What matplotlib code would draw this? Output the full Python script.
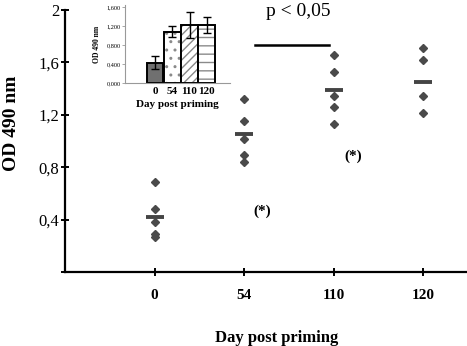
import matplotlib
matplotlib.use("Agg")
import matplotlib.pyplot as plt
import numpy as np

# ---- data ----
days = ["0", "54", "110", "120"]
od_day0 = [0.69, 0.48, 0.38, 0.29, 0.27]
od_day54 = [1.32, 1.15, 1.015, 0.89, 0.84]
od_day110 = [1.66, 1.53, 1.34, 1.26, 1.13]
od_day120 = [1.71, 1.62, 1.34, 1.21]
group_means = [0.42, 1.05, 1.39, 1.45]

inset_means = [0.43, 1.08, 1.22, 1.22]
inset_err = [0.14, 0.12, 0.27, 0.16]

yticks = [0.0, 0.4, 0.8, 1.2, 1.6, 2.0]
ytick_labels = ["", "0,4", "0,8", "1,2", "1,6", "2"]
inset_yticks = [0.0, 0.4, 0.8, 1.2, 1.6]
inset_ytick_labels = ["0,000", "0,400", "0,800", "1,200", "1,600"]

plt.rcParams['font.family'] = ['Liberation Serif', 'DejaVu Serif']

W, H = 467, 346
fig = plt.figure(figsize=(W / 100, H / 100), dpi=100)

# main axes
ax = fig.add_axes([65 / W, (H - 272) / H, 402 / W, 262 / H])
ax.set_xlim(0, 4.49)
ax.set_ylim(0, 2)
for s in ["top", "right"]:
    ax.spines[s].set_visible(False)
for s in ["left", "bottom"]:
    ax.spines[s].set_linewidth(1.6)
    ax.spines[s].set_color("black")

groups = [od_day0, od_day54, od_day110, od_day120]
xpos = np.arange(1, len(days) + 1)
for x, g in zip(xpos, groups):
    ax.plot([x] * len(g), g, linestyle="none", marker="D", markersize=4.2,
            color="#4a4a4a", zorder=3, clip_on=False)
ax.plot(xpos, group_means, linestyle="none", marker="_", markersize=13,
        markeredgewidth=2.8, color="#444444", zorder=4)

ax.set_xticks(xpos)
ax.set_xticklabels(days, fontsize=11, fontweight="bold")
ax.tick_params(axis="x", direction="inout", length=6, width=1.4, pad=9)
ax.set_yticks(yticks)
ax.set_yticklabels(ytick_labels, fontsize=12)
ax.tick_params(axis="y", direction="inout", length=6, width=1.4, pad=1)

# significance annotations
ax.plot([2.12, 2.95], [1.73, 1.73], color="black", linewidth=1.8)
ax.text(2.6, 1.985, "p < 0,05", fontsize=14, ha="center", va="center")
ax.text(2.2, 0.46, "(*)", fontsize=11, fontweight="bold", ha="center", va="center")
ax.text(3.22, 0.88, "(*)", fontsize=11, fontweight="bold", ha="center", va="center")

fig.text(277 / W, 1 - 338 / H, "Day post priming", fontsize=12,
         fontweight="bold", ha="center", va="center")
fig.text(12 / W, 1 - 123 / H, "OD 490 nm", fontsize=14, fontweight="bold",
         rotation=90, ha="center", va="center")

# inset
ins = fig.add_axes([125 / W, (H - 83) / H, 105 / W, 78 / H])
ins.set_ylim(0, 1.64)
ins.set_xlim(-1.76, 4.36)
ipos = np.arange(len(days))
fills = ["#707070", "white", "white", "white"]
hatches = [None, "..", "////", "--"]
bars = ins.bar(ipos, inset_means, width=0.96, color=fills, edgecolor="black",
               linewidth=1.4, zorder=2)
for b, h in zip(bars, hatches):
    if h:
        b.set_hatch(h)
        b._hatch_color = matplotlib.colors.to_rgba("#8a8a8a")
ins.errorbar(ipos, inset_means, yerr=inset_err, fmt="none", ecolor="black",
             elinewidth=1.0, capsize=3, capthick=1.0, zorder=3)
for s in ["top", "right"]:
    ins.spines[s].set_visible(False)
for s in ["left", "bottom"]:
    ins.spines[s].set_color("#999999")
    ins.spines[s].set_linewidth(0.8)
ins.set_yticks(inset_yticks)
ins.set_yticklabels(inset_ytick_labels, fontsize=4.5)
ins.tick_params(axis="y", length=2, width=0.6, color="#999999", pad=1)
ins.set_xticks(ipos)
ins.set_xticklabels(days, fontsize=8, fontweight="bold")
ins.tick_params(axis="x", length=0, pad=3)
ins.set_xlabel("Day post priming", fontsize=8, fontweight="bold", labelpad=3)
ins.set_ylabel("OD 490 nm", fontsize=5.5, fontweight="bold", labelpad=4)

fig.savefig("out.png", dpi=100)
